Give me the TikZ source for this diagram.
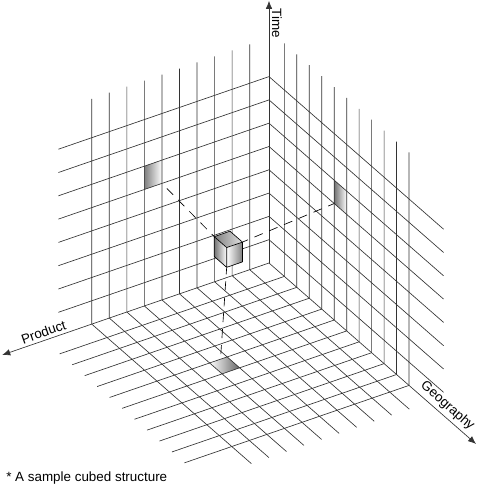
\documentclass[tikz,border=0pt]{standalone}
\usepackage{fontspec}
\setmainfont{Liberation Sans}
\usetikzlibrary{arrows.meta}

\begin{document}
\begin{tikzpicture}[line width=0.65bp,
    gridline/.style={black!80},
    axis/.style={black!80, -{Latex[length=8bp,width=6.5bp]}},
    probe/.style={black, dash pattern=on 9bp off 7bp},
    lbl/.style={inner sep=0pt, font=\fontsize{13.4bp}{16bp}\selectfont},
    iso/.style={x={(12.47bp,-10.9bp)}, y={(-17.55bp,-6.05bp)}, z={(0bp,23.3bp)}}]
    \useasboundingbox (0,0) rectangle (477bp,-484bp);

    \begin{scope}[shift={(269bp,-263bp)}, iso]
        % marked cell on each wall and on the floor
        \shade[left color=black!50, right color=white] (0,6.1,5) -- (0,7.1,5) -- (0,7.1,6) -- (0,6.1,6) -- cycle;
        \shade[left color=black!55, right color=white] (5.23,0,5) -- (6.23,0,5) -- (6.23,0,6) -- (5.23,0,6) -- cycle;
        \shade[left color=white, right color=black!60] (5.23,6.1,0) -- (6.23,6.1,0) -- (6.23,7.1,0) -- (5.23,7.1,0) -- cycle;

        \foreach \i [evaluate=\i as \b using \i+0.1] in {1,...,10}
            \draw[gridline] (0,\b,0) -- (0,\b,9.67) (0,\b,0) -- (12.8,\b,0);
        \foreach \i [evaluate=\i as \a using \i+0.23] in {1,...,11}
            \draw[gridline] (\a,0,0) -- (\a,0,10) (\a,0,0) -- (\a,12.8,0);
        \foreach \t in {1,...,8}
            \draw[gridline] (0,12,\t) -- (0,0,\t) -- (14,0,\t);

        \coordinate (O) at (0,0,0);
        \coordinate (timetip) at (0,0,11.25);
        \coordinate (producttip) at (0,15.2,0);
        \coordinate (geotip) at (16.6,0,0);
        \coordinate (leftmark) at (0,6.1,5);
        \coordinate (rightmark) at (5.23,0,5);
        \coordinate (floormark) at (5.23,6.48,0);

        \draw[axis] (O) -- (timetip);
        \draw[axis] (O) -- (producttip);
        \draw[axis] (O) -- (geotip);
    \end{scope}

    \begin{scope}[shift={(230bp,-251bp)}, iso]
        \coordinate (cubeleft) at (0,0.9,0.85);
        \coordinate (cuberight) at (1,0,0.85);
        \coordinate (cubebottom) at (1,0.9,0);
    \end{scope}

    \draw[probe, dash phase=9bp] (leftmark) -- (cubeleft);
    \draw[probe, dash phase=3bp] (cuberight) -- (rightmark);
    \draw[probe, dash phase=2bp] (cubebottom) -- (floormark);

    \begin{scope}[shift={(230bp,-251bp)}, iso]
        \shade[left color=black!50, right color=black!12] (0,0,0.85) -- (1,0,0.85) -- (1,0.9,0.85) -- (0,0.9,0.85) -- cycle;
        \shade[left color=black!55, right color=white] (0,0.9,0) -- (1,0.9,0) -- (1,0.9,0.85) -- (0,0.9,0.85) -- cycle;
        \shade[left color=white, right color=black!50] (1,0.9,0) -- (1,0,0) -- (1,0,0.85) -- (1,0.9,0.85) -- cycle;
        \draw[line join=round] (0,0,0.85) -- (1,0,0.85) -- (1,0.9,0.85) -- (0,0.9,0.85) -- cycle
            (0,0.9,0.85) -- (0,0.9,0) -- (1,0.9,0) -- (1,0,0) -- (1,0,0.85)
            (1,0.9,0.85) -- (1,0.9,0);
    \end{scope}

    \node[lbl, rotate=-90] (time) at (277bp,-23bp) {Time};
    \node[lbl, rotate=19.2] (product) at (43.5bp,-332bp) {Product};
    \node[lbl, rotate=-40.9] (geography) at (447.5bp,-406bp) {Geography};
    \node[lbl, anchor=base west] (caption) at (6bp,-481.5bp) {* A sample cubed structure};
\end{tikzpicture}
\end{document}
